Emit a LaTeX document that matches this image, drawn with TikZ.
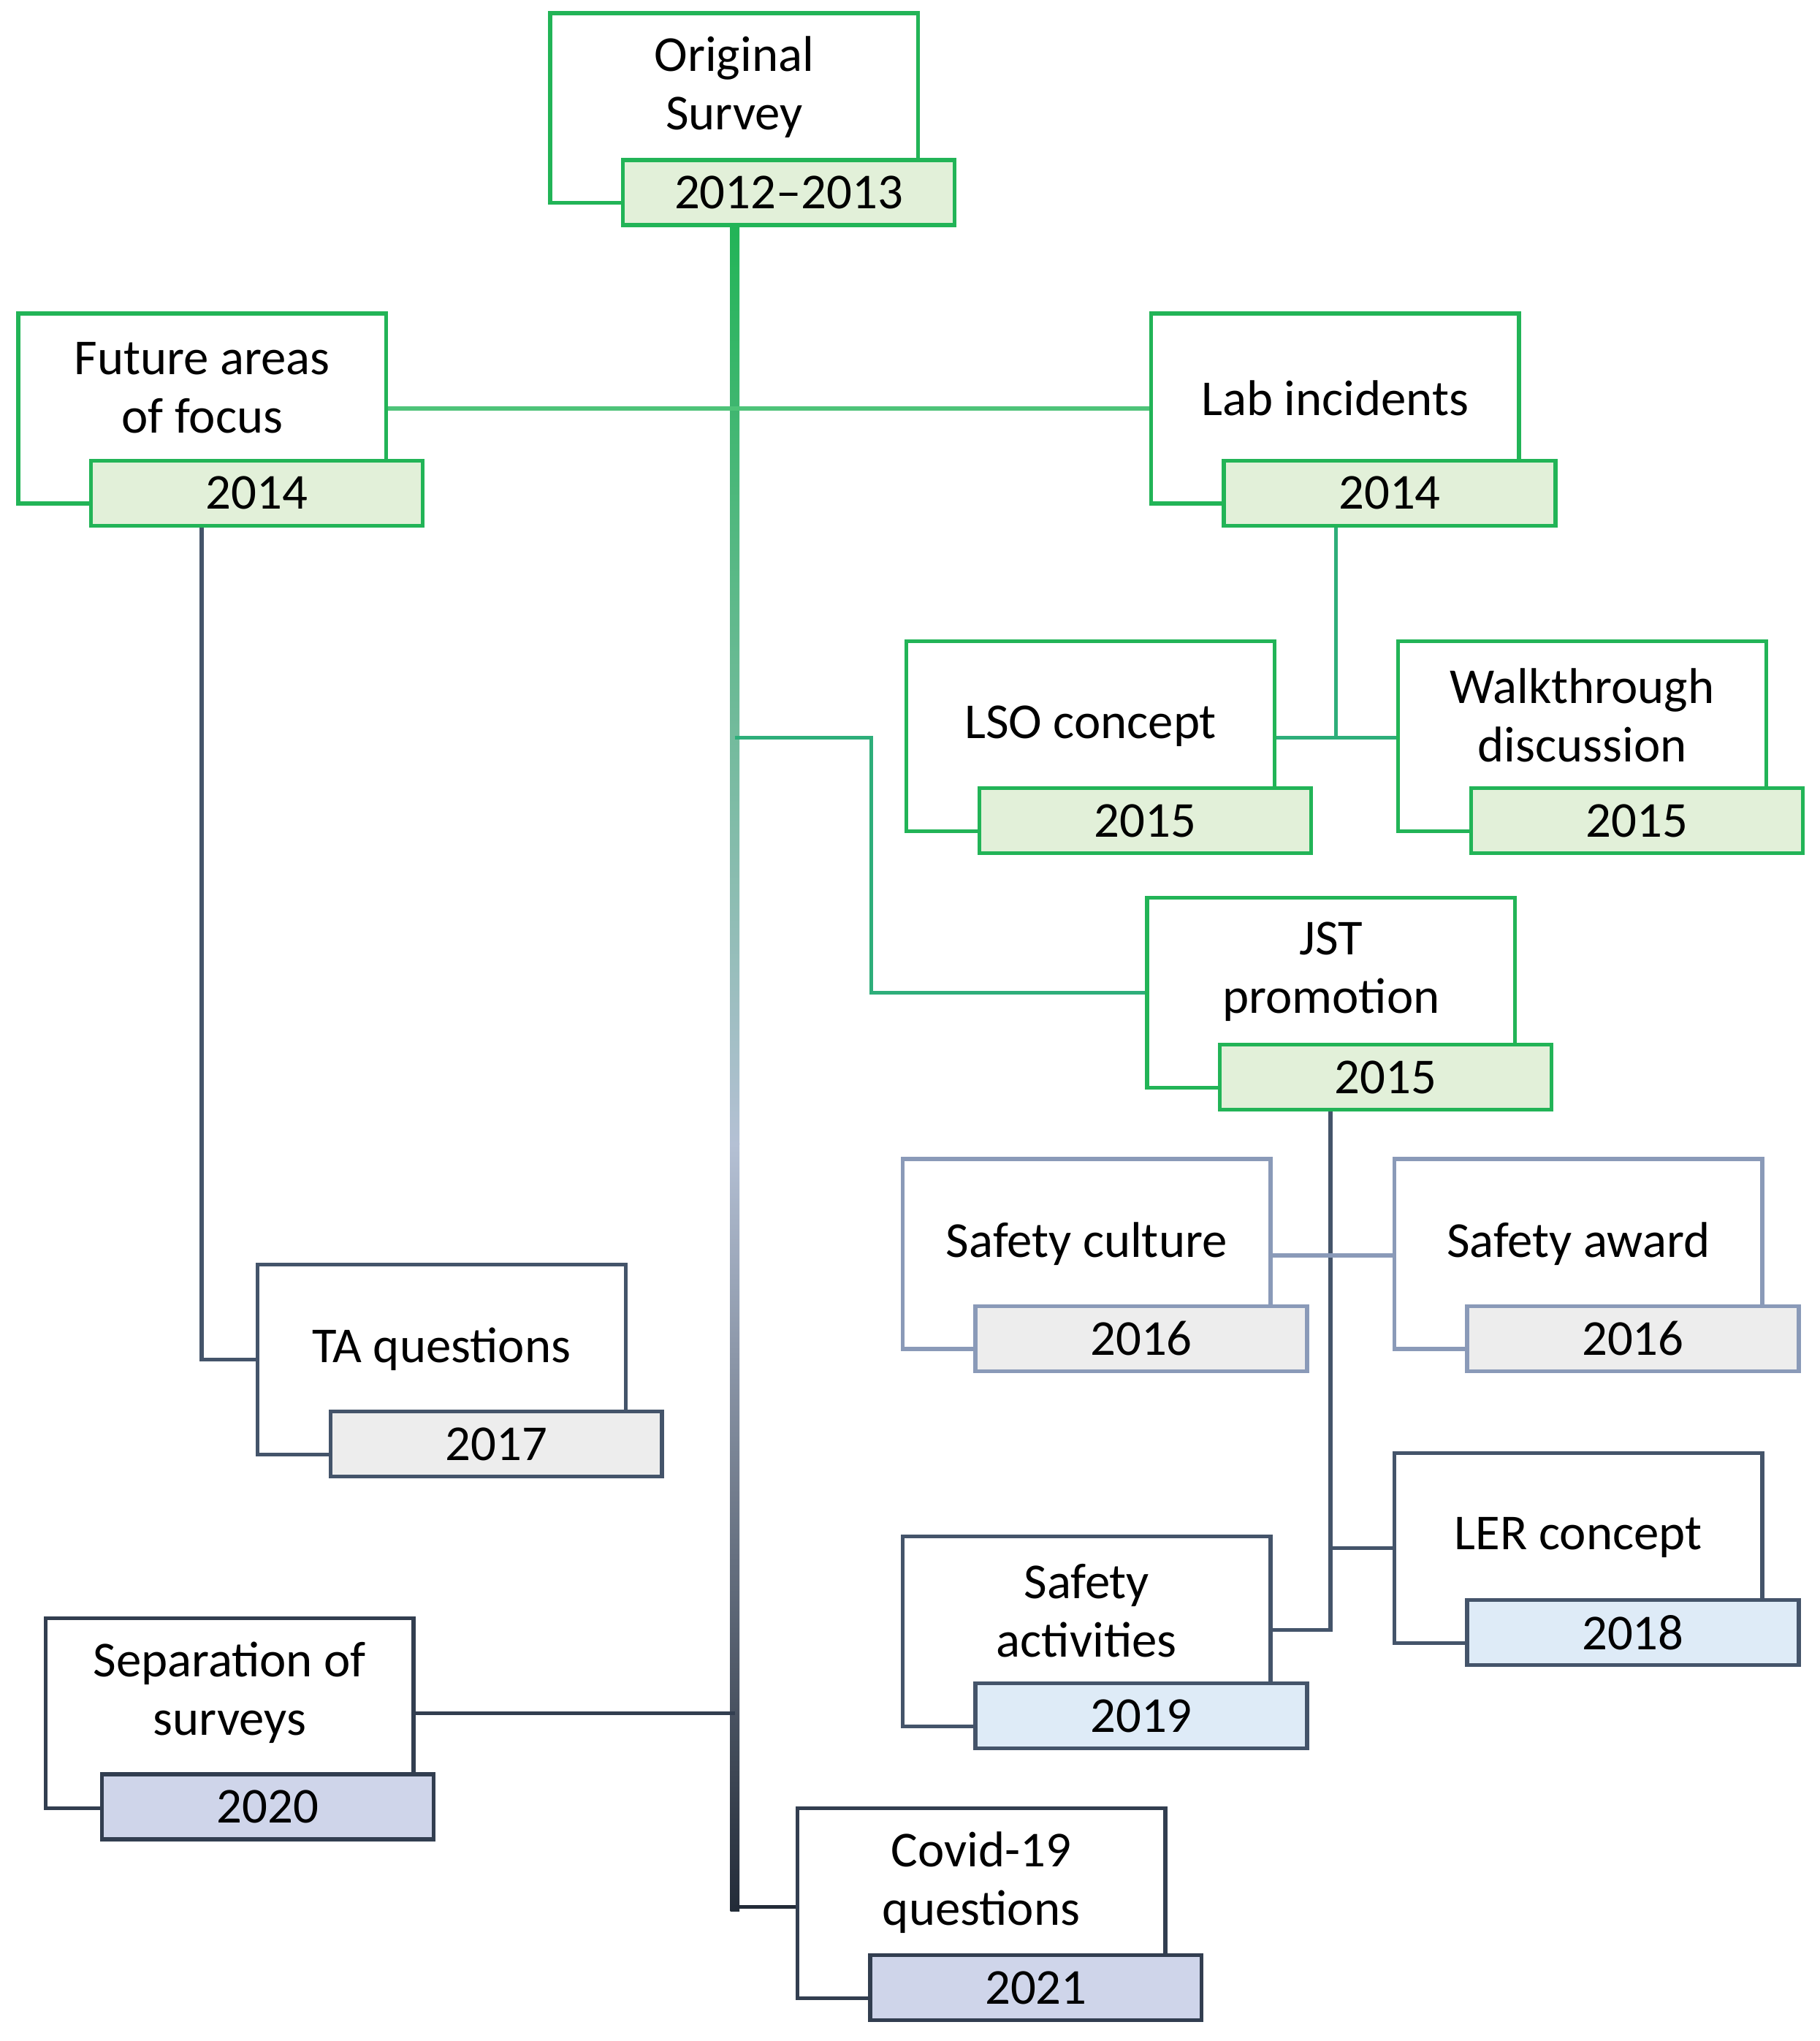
\documentclass[tikz,border=0pt]{standalone}
\usepackage{fontspec}
\setmainfont{Carlito}
\begin{document}
\definecolor{gb}{HTML}{22B457}
\definecolor{gf}{HTML}{E2F0D9}
\definecolor{lb}{HTML}{8A9AB8}
\definecolor{mid}{HTML}{B4C0D4}
\definecolor{gyf}{HTML}{EDEDED}
\definecolor{sl}{HTML}{44546A}
\definecolor{bf}{HTML}{DEEBF7}
\definecolor{dk}{HTML}{323E50}
\definecolor{pf}{HTML}{CFD5EA}
\definecolor{tl}{HTML}{2EAE7A}
\begin{tikzpicture}[x=0.02cm,y=-0.02cm,
  outer/.style={draw,fill=white,line width=0.06cm,minimum width=5.66cm,minimum height=2.92cm,inner sep=0pt},
  yr/.style={draw,line width=0.06cm,minimum width=5.1cm,minimum height=1cm,inner sep=0pt,font=\fontsize{22}{25}\selectfont},
  lbl/.style={align=center,font=\fontsize{22}{25.5}\selectfont},
  con/.style={line width=0.06cm}]
\useasboundingbox (0,0) rectangle (1399,1569);
\newcommand{\tlbox}[8]{%
  \node[outer,draw=#6] (#1) at (#2+141.5,#3+73) {};
  \node[lbl] (#1t) at (#2+141.5,#3+#8) {#4};
  \node[yr,draw=#6,fill=#7] (#1y) at (#2+183.5,#3+138) {#5};}
% connectors
\shade[top color=gb,bottom color=mid] (561.5,174) rectangle (568.5,880);
\shade[top color=mid,bottom color=dk!70!black] (561.5,879) rectangle (568.5,1469);
\coordinate (tb) at (565,1466);
\draw[con,gb!80!white] (297,314) -- (885,314);
\draw[con,tl] (565,567) -- (670,567) -- (670,763) -- (882,763);
\draw[con,sl] (155,404) -- (155,1045) -- (198,1045);
\draw[con,tl] (1027,404) -- (1027,567);
\draw[con,tl] (980,567) -- (1075,567);
\draw[con,sl] (1023,852) -- (1023,1253) -- (977,1253);
\draw[con,lb] (977,965) -- (1072,965);
\draw[con,sl] (1023,1190) -- (1072,1190);
\draw[con,dk] (318,1317) -- (565,1317);
\draw[con,dk!70!black] (tb) -- (613,1466);
% boxes
\tlbox{os}{423}{10}{Original\\Survey}{2012--2013}{gb}{gf}{57}
\tlbox{fa}{14}{241}{Future areas\\of focus}{2014}{gb}{gf}{57}
\tlbox{li}{885}{241}{Lab incidents}{2014}{gb}{gf}{65}
\tlbox{lso}{697}{493}{LSO concept}{2015}{gb}{gf}{65}
\tlbox{wt}{1075}{493}{Walkthrough\\discussion}{2015}{gb}{gf}{57}
\tlbox{jst}{882}{690}{JST\\promotion}{2015}{gb}{gf}{57}
\tlbox{sc}{694}{891}{Safety culture}{2016}{lb}{gyf}{65}
\tlbox{sa}{1072}{891}{Safety award}{2016}{lb}{gyf}{65}
\tlbox{ta}{198}{972}{TA questions}{2017}{sl}{gyf}{65}
\tlbox{ler}{1072}{1117}{LER concept}{2018}{sl}{bf}{65}
\tlbox{sac}{694}{1181}{Safety\\activities}{2019}{sl}{bf}{57}
\node[outer,draw=dk] (sep) at (176.5,1317) {};
\node[lbl] (sept) at (176.5,1301) {Separation of\\surveys};
\node[yr,draw=dk,fill=pf] (sepy) at (206,1389) {2020};
\tlbox{cov}{613}{1390}{Covid-19\\questions}{2021}{dk}{pf}{57}
\end{tikzpicture}
\end{document}
